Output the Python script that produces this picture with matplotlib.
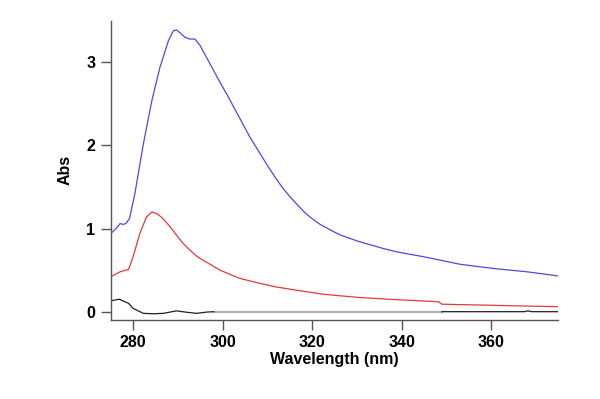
import matplotlib
matplotlib.use("Agg")
import matplotlib.pyplot as plt

plt.rcParams['font.family'] = ['Liberation Sans', 'DejaVu Sans']

blue_wl = [275, 276.2, 277.1, 277.8, 278.4, 279.2, 280.4, 282.3, 284.2, 286.0, 287.9, 289.0,
           289.7, 290.6, 291.6, 292.7, 293.8, 295.0, 297.2, 299.0, 300.9, 302.8, 304.6, 306.1,
           308.4, 310.0, 311.7, 313.4, 315.1, 316.8, 318.4, 320.1, 321.8, 324.0, 326.2,
           328.5, 330.7, 333.3, 335.9, 338.9, 341.9, 345.0, 348.6, 353.1, 356.8, 360.5,
           364.2, 368.0, 371.5, 375.0]
blue_abs = [0.94, 1.00, 1.06, 1.05, 1.06, 1.12, 1.42, 2.02, 2.54, 2.94, 3.26, 3.38,
            3.39, 3.35, 3.30, 3.28, 3.28, 3.20, 2.98, 2.80, 2.62, 2.43, 2.25, 2.10,
            1.90, 1.76, 1.62, 1.49, 1.38, 1.28, 1.19, 1.115, 1.05, 0.985, 0.925,
            0.88, 0.84, 0.80, 0.76, 0.72, 0.69, 0.66, 0.62, 0.57, 0.545, 0.52,
            0.50, 0.48, 0.455, 0.43]

red_wl = [275, 277.1, 279.0, 280.0, 281.5, 283.0, 284.2, 285.3, 286.5, 288.3, 290.0, 291.2,
          292.7, 294.2, 295.0, 297.2, 299.4, 301.6, 303.9, 306.1, 308.4, 311.7, 315.1,
          318.8, 322.5, 326.5, 330.7, 335.5, 340.4, 344.3, 348.2, 349.0, 354.7, 360.5,
          364.2, 368.0, 371.5, 375.0]
red_abs = [0.42, 0.48, 0.51, 0.66, 0.94, 1.14, 1.20, 1.18, 1.13, 1.02, 0.90, 0.82,
           0.74, 0.67, 0.64, 0.57, 0.50, 0.45, 0.40, 0.37, 0.34, 0.30, 0.27,
           0.24, 0.21, 0.19, 0.17, 0.155, 0.14, 0.13, 0.12, 0.09, 0.083, 0.077,
           0.072, 0.068, 0.064, 0.06]

black_wl = [275, 276.9, 279.0, 280.0, 282.3, 284.5, 286.8, 289.7, 292.0, 294.2, 296.4, 298.0]
black_abs = [0.13, 0.15, 0.10, 0.04, -0.02, -0.025, -0.02, 0.01, -0.007, -0.02, -0.005, 0.0]

gray_wl = [298.0, 349.0]
gray_abs = [0.0, 0.0]

black2_wl = [349.0, 367.5, 368.2, 369.0, 375.0]
black2_abs = [0.0, 0.0, 0.01, 0.0, 0.0]

x_ticks = [280, 300, 320, 340, 360]
y_ticks = [0, 1, 2, 3]

fig = plt.figure(figsize=(6.0, 3.99), dpi=100)
ax = fig.add_axes([0.1845, 0.198, 0.746, 0.750])

ax.plot(blue_wl, blue_abs, color='#4a4ae6', lw=0.9)
ax.plot(red_wl, red_abs, color='#e23a3a', lw=0.9)
ax.plot(gray_wl, gray_abs, color='#b0b0b0', lw=1.6)
ax.plot(black_wl, black_abs, color='#202020', lw=0.9)
ax.plot(black2_wl, black2_abs, color='#202020', lw=0.9)

ax.set_xlim(275, 375)
ax.set_ylim(-0.1, 3.5)
ax.set_xticks(x_ticks)
ax.set_yticks(y_ticks)

for s in ['top', 'right']:
    ax.spines[s].set_visible(False)
for s in ['left', 'bottom']:
    ax.spines[s].set_color('#555555')
    ax.spines[s].set_linewidth(1.0)

ax.tick_params(direction='out', length=7, width=1.0, color='#555555',
               labelsize=11.5, pad=4)
for lab in ax.get_xticklabels() + ax.get_yticklabels():
    lab.set_fontweight('bold')

ax.set_xlabel('Wavelength (nm)', fontsize=11.5, fontweight='bold', labelpad=1)
ax.set_ylabel('Abs', fontsize=11.5, fontweight='bold', labelpad=10)

fig.savefig('out.png', dpi=100)
